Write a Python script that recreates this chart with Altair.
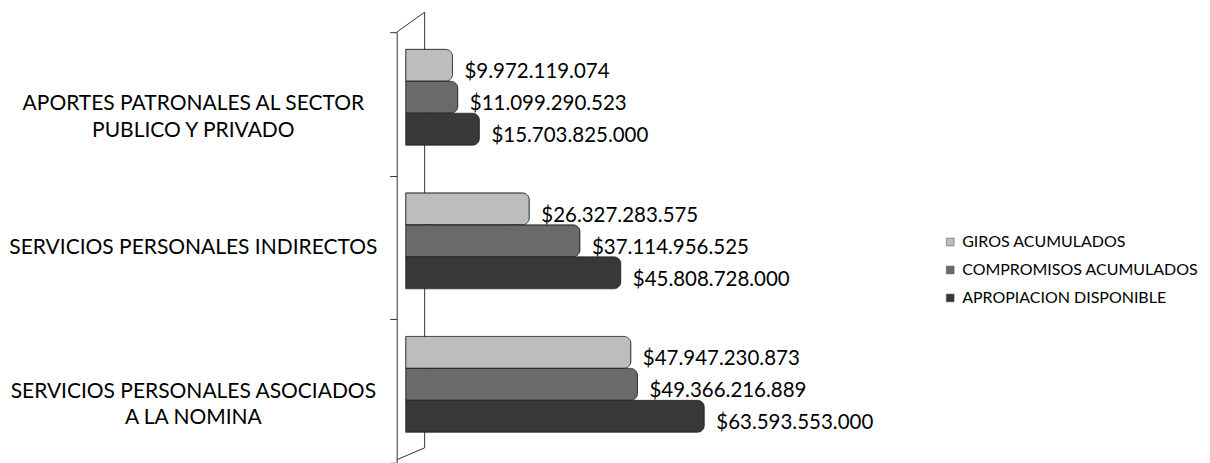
import altair as alt
import pandas as pd

categories = [
    "APORTES PATRONALES AL SECTOR\nPUBLICO Y PRIVADO",
    "SERVICIOS PERSONALES INDIRECTOS",
    "SERVICIOS PERSONALES ASOCIADOS\nA LA NOMINA",
]
series = ["GIROS ACUMULADOS", "COMPROMISOS ACUMULADOS", "APROPIACION DISPONIBLE"]
giros = [9972119074, 26327283575, 47947230873]
compromisos = [11099290523, 37114956525, 49366216889]
apropiacion = [15703825000, 45808728000, 63593553000]
colors = ["#bdbdbd", "#6a6a6a", "#383838"]

rows = []
for s, vals in zip(series, [giros, compromisos, apropiacion]):
    for c, v in zip(categories, vals):
        rows.append({"cat": c, "serie": s, "valor": v,
                     "etiqueta": "$" + "{:,}".format(v).replace(",", ".")})
df = pd.DataFrame(rows)

FONT = "Lato"
W, H = 329, 431

y_enc = alt.Y("cat:N", sort=categories,
              scale=alt.Scale(paddingInner=0, paddingOuter=0),
              axis=alt.Axis(title=None, labelExpr="split(datum.label, '\\n')",
                            labelAlign="center", labelPadding=197,
                            labelFontSize=21, labelFont=FONT, labelColor="#000",
                            labelLineHeight=27, tickBand="extent", tickSize=7,
                            tickColor="#333", domainColor="#333", offset=9,
                            labelLimit=500))
yoff = alt.YOffset("serie:N", sort=series,
                   scale=alt.Scale(paddingInner=0.0, paddingOuter=0.745, align=0.36))
x_enc = alt.X("valor:Q", scale=alt.Scale(domain=[0, 70e9]), axis=None)

bars = alt.Chart(df).mark_bar(cornerRadiusEnd=7, stroke="#222", strokeWidth=0.8).encode(
    x=x_enc, y=y_enc, yOffset=yoff,
    color=alt.Color("serie:N", sort=series,
                    scale=alt.Scale(domain=series, range=colors),
                    legend=alt.Legend(title=None, orient="none", legendX=537, legendY=202,
                                      symbolType="square", symbolSize=60,
                                      symbolStrokeColor="#444", symbolStrokeWidth=0.5,
                                      labelFont=FONT, labelFontSize=16, labelColor="#000",
                                      labelOffset=4, rowPadding=12, labelLimit=400)),
)

labels = alt.Chart(df).mark_text(align="left", baseline="middle", dx=12, dy=7,
                                 font=FONT, fontSize=20.5, color="#000").encode(
    x=x_enc, y=alt.Y("cat:N", sort=categories), yOffset=yoff, text="etiqueta:N"
)

wall = alt.Chart(pd.DataFrame({"k": [0]}))
back = wall.mark_rule(color="#333", strokeWidth=1).encode(
    x=alt.value(19), y=alt.value(-20), y2=alt.value(416))
top = wall.mark_rule(color="#333", strokeWidth=1).encode(
    x=alt.value(-9), x2=alt.value(19), y=alt.value(0), y2=alt.value(-20))
bottom = wall.mark_rule(color="#333", strokeWidth=1).encode(
    x=alt.value(19), x2=alt.value(-9), y=alt.value(416), y2=alt.value(428))

chart = alt.layer(back, top, bottom, bars, labels).properties(
    width=W, height=H,
    background="white",
    autosize=alt.AutoSizeParams(type="none"),
    padding={"left": 398, "top": 24, "right": 468, "bottom": 0},
).configure_view(strokeWidth=0, stroke=None)

chart.save("out.html", embed_options={"renderer": "svg", "actions": False})
